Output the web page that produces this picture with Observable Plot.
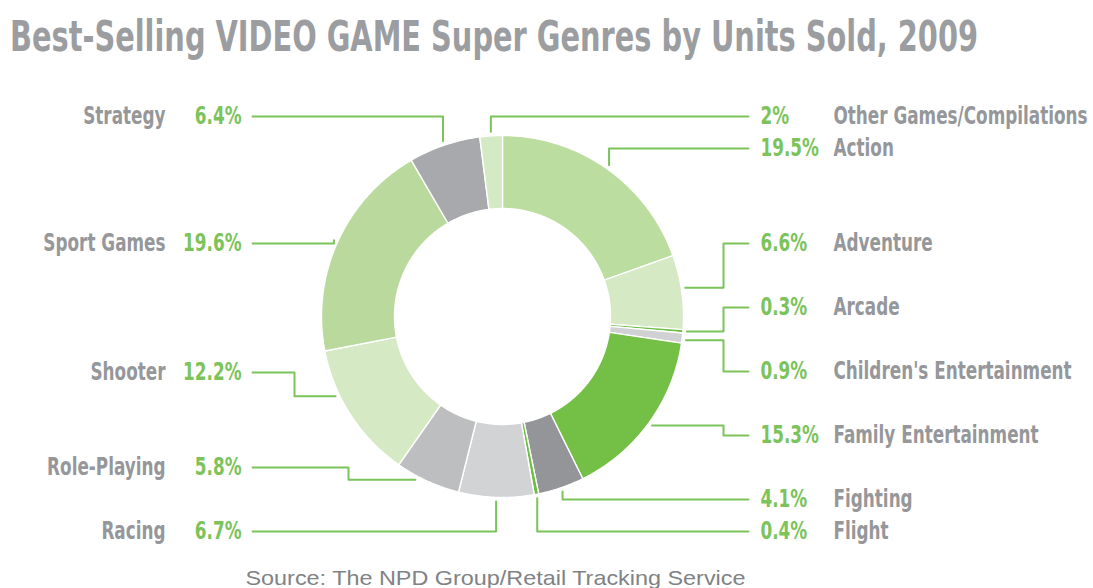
<!DOCTYPE html>
<html><head><meta charset="utf-8">
<script src="https://cdn.jsdelivr.net/npm/d3@7"></script>
<script src="https://cdn.jsdelivr.net/npm/@observablehq/plot@0.6"></script>
<style>
body{margin:0;background:#fff;width:1093px;height:588px;overflow:hidden;font-family:"Liberation Sans Narrow","DejaVu Sans Condensed",sans-serif}
#title{height:80px;box-sizing:border-box;padding:16px 0 0 10px;font-size:42px;line-height:42px;font-weight:bold;color:#9b9da0;white-space:nowrap}
#title span{display:inline-block;transform-origin:0 50%}
#chart{height:480px}
#chart svg{display:block}
#caption{width:990px;text-align:center;font-family:"Liberation Sans",sans-serif;font-size:21px;line-height:24px;color:#808285;white-space:nowrap;padding-top:6px}
#caption span{display:inline-block;transform-origin:50% 50%}
</style></head><body>
<div id="title"><span>Best-Selling VIDEO GAME Super Genres by Units Sold, 2009</span></div>
<div id="chart"></div>
<div id="caption"><span>Source: The NPD Group/Retail Tracking Service</span></div>
<script>
// ---- data ----
const genres = ["Action","Adventure","Arcade","Children's Entertainment","Family Entertainment","Fighting","Flight","Racing","Role-Playing","Shooter","Sport Games","Strategy","Other Games/Compilations"];
const shares = [19.5, 6.6, 0.3, 0.9, 15.3, 4.1, 0.4, 6.7, 5.8, 12.2, 19.6, 6.4, 2];
const shareLabels = ["19.5%","6.6%","0.3%","0.9%","15.3%","4.1%","0.4%","6.7%","5.8%","12.2%","19.6%","6.4%","2%"];
const sliceColors = ["#bcdda0","#d5eac4","#6dbe45","#cfd1d3","#74c046","#939598","#6dbe45","#d1d3d4","#bcbec0","#d4e9c4","#b9da9c","#a7a9ac","#d4eac5"];

// ---- layout (annotation placement) ----
const labelSide = ["R","R","R","R","R","R","R","L","L","L","L","L","R"];
const labelY    = [148, 243, 307, 371, 435, 499, 531, 531, 467, 372, 243, 116, 116];
const leaderKind= ["v","e","e","e","e","v","v","v","e","e","v","v","v"];
const elbowX    = [null, 723, 723, 723, 723, null, null, null, 348, 294, null, null, null];
const anchorT   = [0.5, 0.45, 0.5, 0.67, 0.5, 0.5, 0.5, 0.5, 0.67, 0.67, 0.5, 0.5, 0.5];
const cx = 502, cy = 316, rOuter = 181, rInner = 108, rAnchor = 185;
const leftLineX = 252, rightLineX = 748;
const leftNameX = 165, leftPctX = 241, rightPctX = 760, rightNameX = 833;
const green = "#7bc35a", nameGrey = "#95979a";
const condense = 0.78;

const pie = d3.pie().sort(null).value(d => d)(shares);
const pt = (a, r) => [cx + r * Math.sin(a), cy - r * Math.cos(a)];

const sliceMarks = pie.map((p, i) => {
  const n = Math.max(2, Math.ceil((p.endAngle - p.startAngle) / 0.01));
  const pts = [];
  for (let k = 0; k <= n; k++) { const a = p.startAngle + (p.endAngle - p.startAngle) * k / n; const [x, y] = pt(a, rOuter); pts.push({x, y}); }
  for (let k = n; k >= 0; k--) { const a = p.startAngle + (p.endAngle - p.startAngle) * k / n; const [x, y] = pt(a, rInner); pts.push({x, y}); }
  return Plot.line(pts, {x: "x", y: "y", fill: sliceColors[i], stroke: "white", strokeWidth: 1.4, curve: "linear-closed"});
});

const leaders = [];
pie.forEach((p, i) => {
  const a = p.startAngle + (p.endAngle - p.startAngle) * anchorT[i];
  const [ax, ay] = pt(a, rAnchor);
  const sx = labelSide[i] === "L" ? leftLineX : rightLineX;
  const ly = labelY[i];
  const path = leaderKind[i] === "v"
    ? [[sx, ly], [ax, ly], [ax, ay]]
    : [[sx, ly], [elbowX[i], ly], [elbowX[i], ay], [ax, ay]];
  path.forEach(([x, y]) => leaders.push({g: genres[i], x, y}));
});

const labels = genres.map((g, i) => ({g, pct: shareLabels[i], side: labelSide[i], y: labelY[i]}));
const font = {fontFamily: "Liberation Sans Narrow, DejaVu Sans Condensed, sans-serif", fontSize: 24, fontWeight: "bold"};

const chart = Plot.plot({
  width: 1093, height: 480, margin: 0,
  x: {domain: [0, 1093], range: [0, 1093], axis: null},
  y: {domain: [80, 560], range: [0, 480], axis: null},
  marks: [
    ...sliceMarks,
    Plot.line(leaders, {x: "x", y: "y", z: "g", stroke: green, strokeWidth: 2}),
    Plot.text(labels.filter(d => d.side === "L"), {x: leftNameX, y: "y", text: "g", textAnchor: "end", fill: nameGrey, ...font}),
    Plot.text(labels.filter(d => d.side === "L"), {x: leftPctX, y: "y", text: "pct", textAnchor: "end", fill: green, ...font}),
    Plot.text(labels.filter(d => d.side === "R"), {x: rightPctX, y: "y", text: "pct", textAnchor: "start", fill: green, ...font}),
    Plot.text(labels.filter(d => d.side === "R"), {x: rightNameX, y: "y", text: "g", textAnchor: "start", fill: nameGrey, ...font})
  ]
});
document.getElementById("chart").appendChild(chart);

// condense label glyphs horizontally (about each text's anchor) to mimic the narrow typeface
chart.querySelectorAll("text").forEach(el => {
  const tr = el.getAttribute("transform") || "";
  const x = parseFloat(el.getAttribute("x")) || 0;
  el.setAttribute("x", 0);
  el.setAttribute("transform", `${tr} translate(${x},0) scale(${condense},1)`);
});

const t = document.querySelector("#title span");
t.style.transform = `scaleX(${968 / t.getBoundingClientRect().width})`;
const c = document.querySelector("#caption span");
c.style.transform = `scaleX(${500 / c.getBoundingClientRect().width})`;
</script>
</body></html>
